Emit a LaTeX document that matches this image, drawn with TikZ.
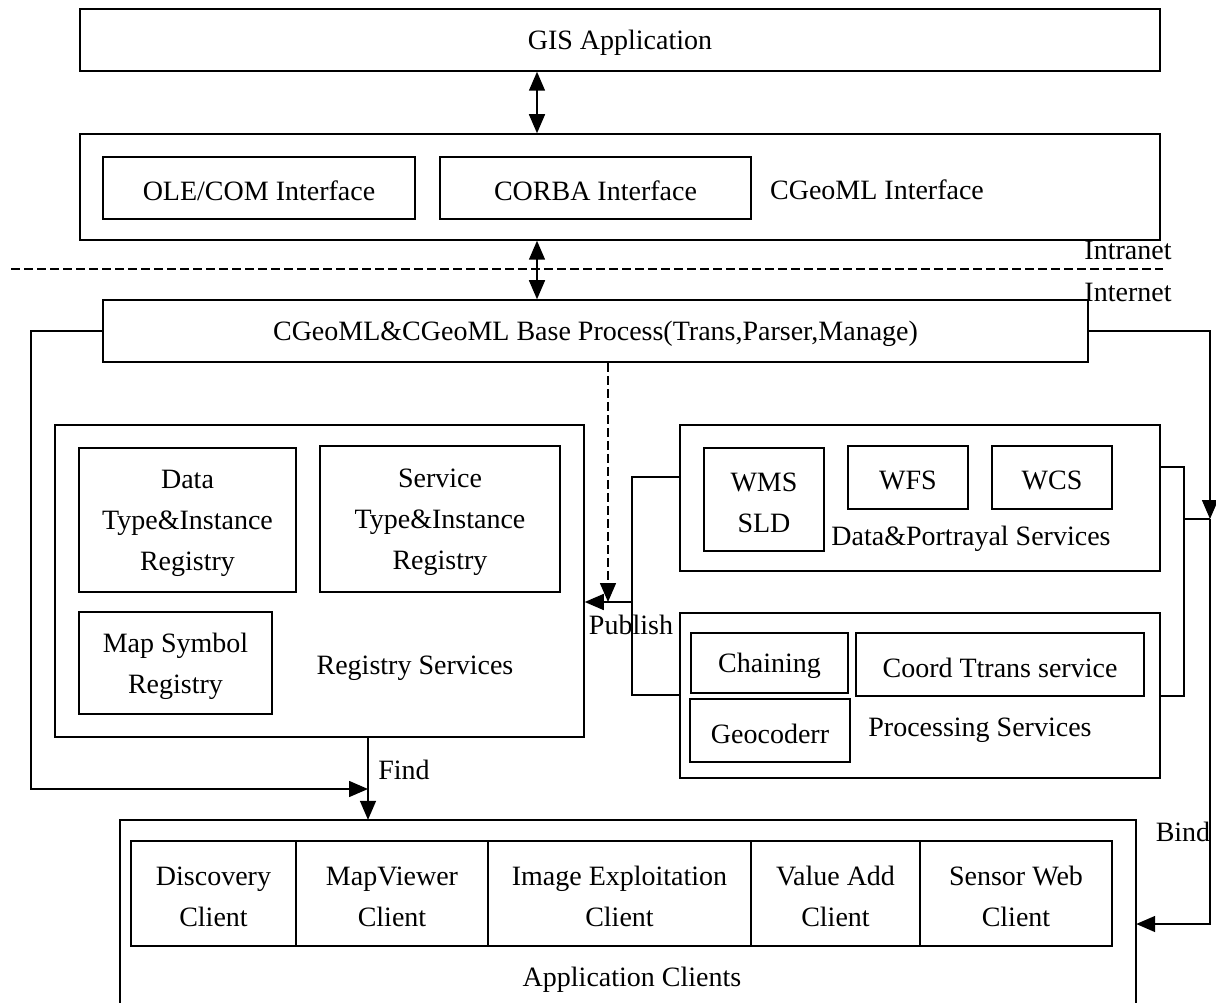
\documentclass[tikz,border=0pt]{standalone}
\usepackage{fontspec}
\setmainfont{Liberation Serif}
\usetikzlibrary{arrows.meta}
\tikzset{
  box/.style={draw, line width=1.5pt, inner sep=0pt},
  plain/.style={inner sep=0pt, align=center},
  conn/.style={line width=1.5pt},
  arr/.style={line width=1.5pt, -{Triangle[length=19pt,width=16pt]}},
  dbl/.style={line width=1.5pt, {Triangle[length=19pt,width=16pt]}-{Triangle[length=19pt,width=16pt]}},
  dsh/.style={dash pattern=on 9pt off 4pt}
}
\newcommand\bx[6]{\node[box, minimum width={(#4-#2)*1pt}, minimum height={(#5-#3)*1pt}] (#1) at ({(#2+#4)/2},{(#3+#5)/2}) {};
  \node[plain] (#1t) at ([yshift=-3pt]#1.center) {#6};}
\begin{document}
\begin{tikzpicture}[x=1pt,y=-1pt,font=\fontsize{28}{41}\selectfont]
\useasboundingbox (0,0) rectangle (1216,1003);
% top
\bx{gis}{80}{9}{1160}{71}{GIS Application}
\bx{iface}{80}{134}{1160}{240}{}
\bx{ole}{103}{157}{415}{219}{OLE/COM Interface}
\bx{corba}{440}{157}{751}{219}{CORBA Interface}
\node[plain] (ifacelbl) at (877,190) {CGeoML Interface};
\bx{base}{103}{300}{1088}{362}{CGeoML\&CGeoML Base Process(Trans,Parser,Manage)}
% registry
\bx{reg}{55}{425}{584}{737}{}
\bx{data}{79}{448}{296}{592}{Data\\Type\&Instance\\Registry}
\bx{serv}{320}{446}{560}{592}{Service\\Type\&Instance\\Registry}
\bx{map}{79}{612}{272}{714}{Map Symbol\\Registry}
\node[plain] (reglbl) at (415,668) {Registry Services};
% data & portrayal
\bx{dp}{680}{425}{1160}{571}{}
\bx{wms}{704}{448}{824}{551}{WMS\\SLD}
\bx{wfs}{848}{446}{968}{509}{WFS}
\bx{wcs}{992}{446}{1112}{509}{WCS}
\node[plain] (dplbl) at (971,539) {Data\&Portrayal Services};
% processing
\bx{proc}{680}{613}{1160}{778}{}
\bx{chain}{691}{633}{848}{693}{Chaining}
\bx{coord}{856}{633}{1144}{696}{Coord Ttrans service}
\bx{geo}{690}{699}{850}{762}{Geocoderr}
\node[plain] (proclbl) at (980,730) {Processing Services};
% application clients
\node[inner sep=0pt, minimum width=1016pt, minimum height=183pt] (app) at (628,911.5) {};
\draw[conn] (app.south west) -- (app.north west) -- (app.north east) -- (app.south east);
\bx{c1}{131}{841}{296}{946}{Discovery\\Client}
\bx{c2}{296}{841}{488}{946}{MapViewer\\Client}
\bx{c3}{488}{841}{751}{946}{Image Exploitation\\Client}
\bx{c4}{751}{841}{920}{946}{Value Add\\Client}
\bx{c5}{920}{841}{1112}{946}{Sensor Web\\Client}
\node[plain] (applbl) at (632,980) {Application Clients};
% intranet / internet
\coordinate (dl) at (11,269);
\coordinate (dr) at (1163,269);
\draw[line width=1.3pt, dsh] (dl) -- (dr);
\node[plain] (intra) at (1128,250) {Intranet};
\node[plain] (inter) at (1128,292) {Internet};
% vertical double arrows
\coordinate (ax) at (537,0);
\draw[dbl] (gis.south -| ax) -- (iface.north -| ax);
\draw[dbl] (iface.south -| ax) -- (base.north -| ax);
% find
\coordinate (fx) at (368,789);
\coordinate (lx) at (31,789);
\draw[arr] (base.west) -| (lx) -- (fx);
\draw[arr] (reg.south -| fx) -- (app.north -| fx);
\node[plain] (findlbl) at (404,770) {Find};
% publish
\coordinate (pd) at (608,602);
\coordinate (pa) at (632,477);
\coordinate (pb) at (632,695);
\coordinate (pm) at (632,602);
\draw[dsh, arr] (base.south -| pd) -- (pd);
\draw[conn] (dp.west |- pa) -- (pa) -- (pb) -- (proc.west |- pb);
\draw[arr] (pm) -- (reg.east |- pm);
\node[plain] (publbl) at (631,625) {Publish};
% bind
\coordinate (ra) at (1184,467);
\coordinate (rb) at (1184,696);
\coordinate (rj) at (1184,519);
\coordinate (bj) at (1210,519);
\coordinate (bb) at (1210,924);
\draw[conn] (dp.east |- ra) -- (ra) -- (rb) -- (proc.east |- rb);
\draw[conn] (rj) -- (bj);
\draw[arr] (base.east) -| (bj);
\draw[arr] (bj) |- (app.east |- bb);
\node[plain] (bindlbl) at (1183,832) {Bind};
\end{tikzpicture}
\end{document}
